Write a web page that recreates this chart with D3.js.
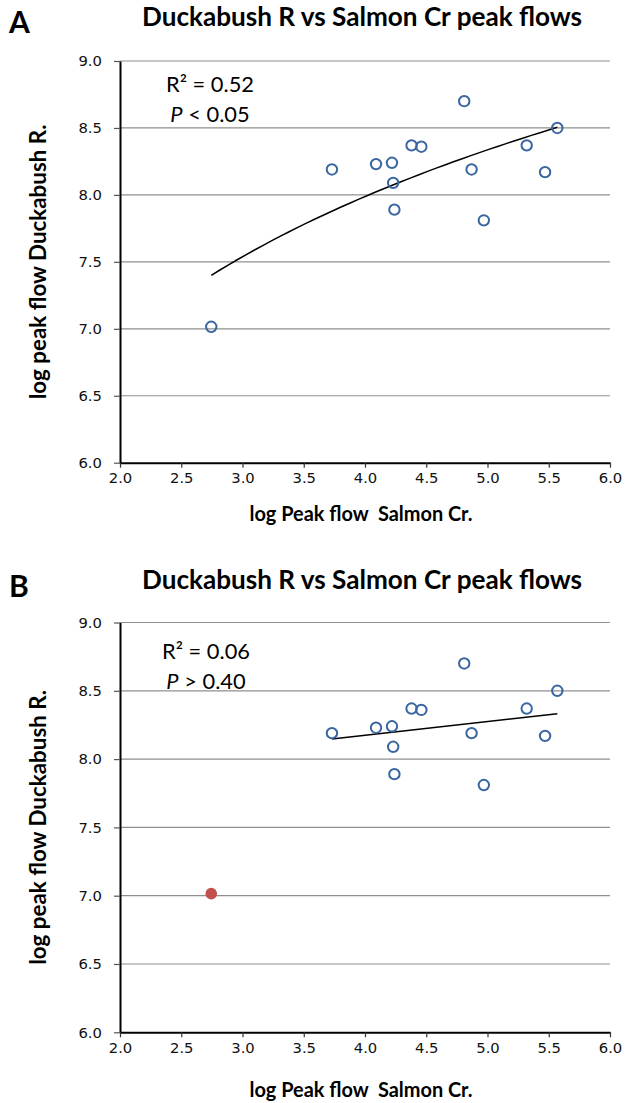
<!DOCTYPE html>
<html>
<head>
<meta charset="utf-8">
<script src="https://cdn.jsdelivr.net/npm/d3@7"></script>
<style>
  html, body { margin: 0; padding: 0; background: #fff; }
  svg { display: block; }
  .tick text { font-family: 'DejaVu Sans', sans-serif; font-size: 14.8px; fill: #111; }
</style>
</head>
<body>
<svg id="chart" width="625" height="1103"></svg>
<script>
// ---------------- data ----------------
const chartTitle = "Duckabush R vs Salmon Cr peak flows";
const xAxisTitle = "log Peak flow  Salmon Cr.";
const yAxisTitle = "log peak flow Duckabush R.";
const panelLabels = ["A", "B"];

const xTicks = [2.0, 2.5, 3.0, 3.5, 4.0, 4.5, 5.0, 5.5, 6.0];
const yTicks = [6.0, 6.5, 7.0, 7.5, 8.0, 8.5, 9.0];

// log peak flow, Salmon Cr. (x) and Duckabush R. (y) — regular years
const salmonPeak    = [3.73, 4.09, 4.22, 4.23, 4.24, 4.38, 4.46, 4.81, 4.87, 4.97, 5.32, 5.47, 5.57];
const duckabushPeak = [8.19, 8.23, 8.24, 8.09, 7.89, 8.37, 8.36, 8.70, 8.19, 7.81, 8.37, 8.17, 8.50];
// the low-flow year (open in A, highlighted in B)
const outlierSalmon    = [2.745];
const outlierDuckabush = [7.015];

const statsA = ["0.52", "<", "0.05"];
const statsB = ["0.06", ">", "0.40"];

// ---------------- helpers ----------------
const svg = d3.select("#chart");
const blue = "#3A66A0";
const red = "#C0504D";
const textFont = "Lato, 'Open Sans', sans-serif";

function fitWidth(sel, target) {
  const n = sel.node();
  const len = n.getComputedTextLength();
  const fs = parseFloat(sel.attr("font-size"));
  if (len > 0) sel.attr("font-size", (fs * target / len).toFixed(2));
}

function linFit(xs, ys) {
  const mx = d3.mean(xs), my = d3.mean(ys);
  let sxy = 0, sxx = 0;
  xs.forEach((x, i) => { sxy += (x - mx) * (ys[i] - my); sxx += (x - mx) * (x - mx); });
  const b = sxy / sxx;
  return { b, a: my - b * mx };
}

function drawPanel(cfg) {
  const { top, bottom, left, right, label, labelY, titleY, xTitleY, stats, statX, statY, mode } = cfg;
  const x = d3.scaleLinear().domain([2, 6]).range([left, right]);
  const y = d3.scaleLinear().domain([6, 9]).range([bottom, top]);
  const g = svg.append("g");

  // gridlines
  g.append("g").selectAll("line").data(yTicks.filter(t => t > 6)).join("line")
    .attr("x1", left).attr("x2", right)
    .attr("y1", d => y(d)).attr("y2", d => y(d))
    .attr("stroke", "#8f8f8f").attr("stroke-width", 1.2);

  // y axis
  const ya = g.append("g").attr("transform", `translate(${left},0)`)
    .call(d3.axisLeft(y).tickValues(yTicks).tickFormat(d3.format(".1f")).tickSize(6).tickSizeOuter(0).tickPadding(12));
  ya.select(".domain").attr("stroke", "#000").attr("stroke-width", 2);
  ya.selectAll(".tick line").attr("stroke", "#555").attr("stroke-width", 1.2);

  // x axis
  const xa = g.append("g").attr("transform", `translate(0,${bottom})`)
    .call(d3.axisBottom(x).tickValues(xTicks).tickFormat(d3.format(".1f")).tickSize(5).tickSizeOuter(0).tickPadding(5));
  xa.select(".domain").attr("stroke", "#000").attr("stroke-width", 2);
  xa.selectAll(".tick line").attr("stroke", "#333").attr("stroke-width", 1.2);

  // titles
  const t = g.append("text").attr("x", 362).attr("y", titleY).attr("text-anchor", "middle")
    .attr("font-family", textFont).attr("font-weight", "bold").attr("font-size", 20.5)
    .text(chartTitle);
  fitWidth(t, 440);
  g.append("text").attr("x", 9).attr("y", labelY)
    .attr("font-family", textFont).attr("font-weight", "bold").attr("font-size", 30)
    .text(label);
  const xt = g.append("text").attr("x", 361).attr("y", xTitleY).attr("text-anchor", "middle")
    .attr("font-family", textFont).attr("font-weight", "bold").attr("font-size", 18)
    .attr("xml:space", "preserve")
    .text(xAxisTitle);
  fitWidth(xt, 223);
  const yt = g.append("text")
    .attr("transform", `translate(46,${(top + bottom) / 2}) rotate(-90)`)
    .attr("text-anchor", "middle")
    .attr("font-family", textFont).attr("font-weight", "bold").attr("font-size", 20)
    .text(yAxisTitle);
  fitWidth(yt, 275);

  // stats
  const st = g.append("text").attr("x", statX).attr("y", statY).attr("text-anchor", "middle")
    .attr("font-family", textFont).attr("font-size", 19);
  st.append("tspan").text("R² = " + stats[0]);
  fitWidth(st, 88);
  const st2 = g.append("text").attr("x", statX).attr("y", statY + 29.4).attr("text-anchor", "middle")
    .attr("font-family", textFont).attr("font-size", st.attr("font-size"));
  st2.append("tspan").attr("font-style", "italic").text("P");
  st2.append("tspan").text(" " + stats[1] + " " + stats[2]);

  // trend line
  let lineData;
  if (mode === "log") {
    const xs = salmonPeak.concat(outlierSalmon), ys = duckabushPeak.concat(outlierDuckabush);
    const fit = linFit(xs.map(Math.log), ys);
    const xmin = d3.min(xs), xmax = d3.max(xs);
    lineData = d3.range(0, 41).map(i => {
      const xv = xmin + (xmax - xmin) * i / 40;
      return [xv, fit.a + fit.b * Math.log(xv)];
    });
  } else {
    const fit = linFit(salmonPeak, duckabushPeak);
    const xmin = d3.min(salmonPeak), xmax = d3.max(salmonPeak);
    lineData = [[xmin, fit.a + fit.b * xmin], [xmax, fit.a + fit.b * xmax]];
  }
  g.append("path").datum(lineData)
    .attr("d", d3.line().x(d => x(d[0])).y(d => y(d[1])))
    .attr("fill", "none").attr("stroke", "#000").attr("stroke-width", 1.5);

  // points
  g.append("g").selectAll("circle").data(salmonPeak.map((v, i) => [v, duckabushPeak[i]])).join("circle")
    .attr("cx", d => x(d[0])).attr("cy", d => y(d[1])).attr("r", 5.2)
    .attr("fill", "none").attr("stroke", blue).attr("stroke-width", 2);

  const out = g.append("g").selectAll("circle").data(outlierSalmon.map((v, i) => [v, outlierDuckabush[i]])).join("circle")
    .attr("cx", d => x(d[0])).attr("cy", d => y(d[1]));
  if (mode === "log") {
    out.attr("r", 5.2).attr("fill", "none").attr("stroke", blue).attr("stroke-width", 2);
  } else {
    out.attr("r", 5.8).attr("fill", red).attr("stroke", "none");
  }
}

drawPanel({ top: 61, bottom: 462.7, left: 120, right: 610, label: panelLabels[0], labelY: 32.5, titleY: 26,
  xTitleY: 521, stats: statsA, statX: 210, statY: 92.3, mode: "log" });
drawPanel({ top: 622.5, bottom: 1032.3, left: 120, right: 610, label: panelLabels[1], labelY: 597, titleY: 589,
  xTitleY: 1097, stats: statsB, statX: 206, statY: 659.3, mode: "lin" });
</script>
</body>
</html>
